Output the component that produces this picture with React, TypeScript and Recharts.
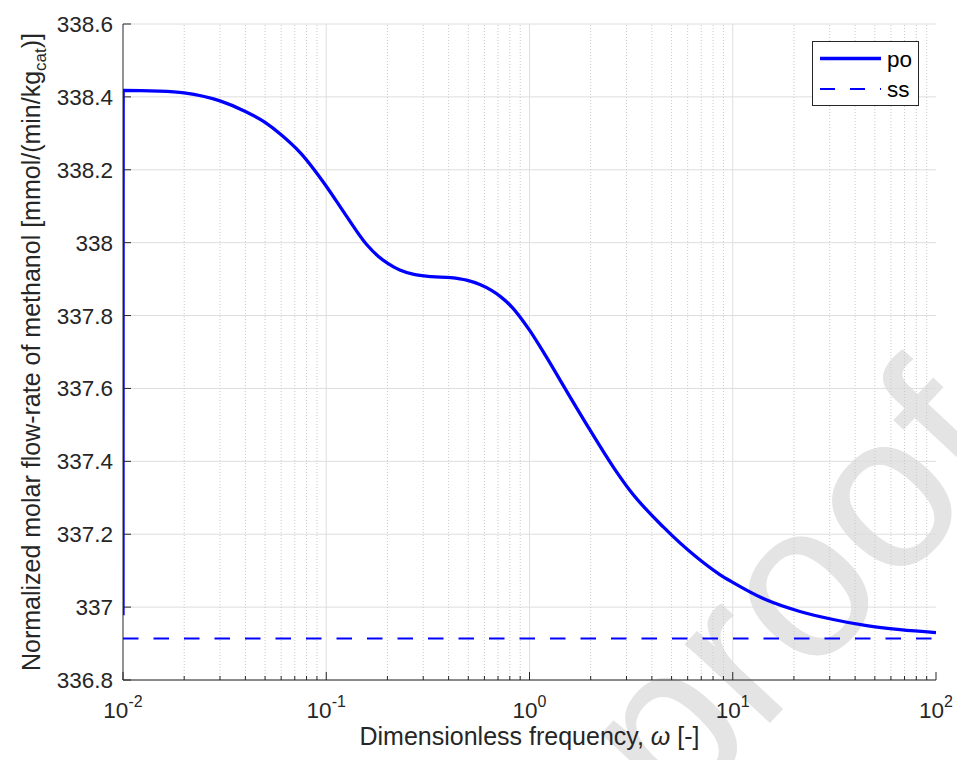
import React from "react";
import { LineChart, Line, XAxis, YAxis, CartesianGrid, ReferenceLine, Legend, Label } from "recharts";

// dimensionless frequency (omega) and normalized methanol flow-rate
const omega = [
  0.01, 0.01002, 0.015, 0.02, 0.03, 0.04, 0.05, 0.06, 0.075, 0.1, 0.125, 0.158, 0.18, 0.2, 0.23, 0.27, 0.33,
  0.41, 0.49, 0.57, 0.65, 0.72, 0.83, 1.0, 1.2, 1.47, 1.98, 2.58, 3.12, 4.55, 6.6, 8.6, 10, 14.6, 21.4, 31.2,
  45.6, 66.5, 100,
];
const poFlow = [
  336.978, 338.418, 338.416, 338.411, 338.389, 338.36, 338.33, 338.296, 338.245, 338.155, 338.075, 337.995,
  337.963, 337.944, 337.925, 337.913, 337.907, 337.904, 337.897, 337.885, 337.869, 337.852, 337.82, 337.76,
  337.69, 337.607, 337.487, 337.385, 337.32, 337.22, 337.138, 337.09, 337.068, 337.02, 336.988, 336.966,
  336.949, 336.938, 336.93,
];
const ssOmega = [0.01, 100];
const ssFlow = [336.914, 336.914];

const yTicks = [336.8, 337, 337.2, 337.4, 337.6, 337.8, 338, 338.2, 338.4, 338.6];
const xMajor = [0.01, 0.1, 1, 10, 100];
const xMinor = xMajor.slice(0, -1).flatMap((d) => [2, 3, 4, 5, 6, 7, 8, 9].map((k) => +(d * k).toPrecision(3)));
const xAll = [...xMajor, ...xMinor].sort((a, b) => a - b);

const poData = omega.map((w, i) => ({ w, po: poFlow[i] }));
const ssData = ssOmega.map((w, i) => ({ w, ss: ssFlow[i] }));

const BLUE = "#0000ff";
const AXIS = "#262626";
const FONT = "'Liberation Sans', Arial, Helvetica, sans-serif";
const W = 957;
const H = 760;
const TICK_FS = 22.5;
const LABEL_FS = 25;

const BottomTick = (props: any) => {
  const { x, y, payload } = props;
  const v = payload.value;
  const major = xMajor.includes(v);
  return (
    <g>
      <line x1={x} x2={x} y1={y} y2={y - (major ? 8 : 4)} stroke={AXIS} />
      {major && (
        <text x={x} y={y + 38} textAnchor="middle" fontSize={TICK_FS} fill={AXIS} fontFamily={FONT}>
          10
          <tspan dy={-11} fontSize={16}>
            {Math.round(Math.log10(v))}
          </tspan>
        </text>
      )}
    </g>
  );
};

const TopTick = (props: any) => {
  const { x, y, payload } = props;
  const major = xMajor.includes(payload.value);
  return <line x1={x} x2={x} y1={y} y2={y + (major ? 8 : 4)} stroke={AXIS} />;
};

const LeftTick = (props: any) => {
  const { x, y, payload } = props;
  return (
    <g>
      <line x1={x} x2={x + 8} y1={y} y2={y} stroke={AXIS} />
      <text x={x - 10} y={y} dy={8} textAnchor="end" fontSize={TICK_FS} fill={AXIS} fontFamily={FONT}>
        {Number(payload.value.toFixed(1)).toString()}
      </text>
    </g>
  );
};

const RightTick = (props: any) => {
  const { x, y } = props;
  return <line x1={x} x2={x - 8} y1={y} y2={y} stroke={AXIS} />;
};

const LegendBox = () => (
  <svg width={107} height={65} style={{ display: "block" }}>
    <rect x={0.5} y={0.5} width={106} height={64} fill="#fff" stroke={AXIS} />
    <line x1={8} x2={69} y1={17.5} y2={17.5} stroke={BLUE} strokeWidth={3.3} />
    <text x={75} y={25.5} fontSize={TICK_FS} fill="#000" fontFamily={FONT}>po</text>
    <line x1={8} x2={69} y1={48} y2={48} stroke={BLUE} strokeWidth={2} strokeDasharray="15 15" />
    <text x={75} y={55.5} fontSize={TICK_FS} fill="#000" fontFamily={FONT}>ss</text>
  </svg>
);

export default function App() {
  return (
    <div style={{ position: "relative", width: W, height: H, background: "#fff" }}>
      <style>{`body{margin:0}`}</style>
      <svg width={W} height={H} style={{ position: "absolute", left: 0, top: 0 }}>
        <text
          x={1018}
          y={457}
          transform="rotate(-47 1018 457)"
          textAnchor="end"
          fontSize={220}
          fill="#e4e4e4"
          fontFamily={FONT}
        >
          Journal Pre-proof
        </text>
      </svg>
      <LineChart width={W} height={H} margin={{ top: 24, right: 21, bottom: 0, left: 0 }}>
        <CartesianGrid vertical={false} stroke="#dedede" />
        {xMinor.map((v) => (
          <ReferenceLine key={`m${v}`} x={v} stroke="#c9c9c9" strokeDasharray="1 2" />
        ))}
        {xMajor.slice(1, -1).map((v) => (
          <ReferenceLine key={`M${v}`} x={v} stroke="#dedede" />
        ))}
        <XAxis
          dataKey="w"
          type="number"
          scale="log"
          domain={[0.01, 100]}
          allowDataOverflow
          ticks={xAll}
          interval={0}
          height={80}
          tickSize={0}
          tickMargin={0}
          tickLine={false}
          tick={<BottomTick />}
          axisLine={{ stroke: AXIS }}
        >
          <Label
            content={() => (
              <text x={529.5} y={745} textAnchor="middle" fontSize={LABEL_FS} fill={AXIS} fontFamily={FONT}>
                Dimensionless frequency, <tspan fontStyle="italic">ω</tspan> [-]
              </text>
            )}
          />
        </XAxis>
        <XAxis
          xAxisId="top"
          orientation="top"
          dataKey="w"
          type="number"
          scale="log"
          domain={[0.01, 100]}
          allowDataOverflow
          ticks={xAll}
          interval={0}
          height={0}
          tickSize={0}
          tickMargin={0}
          tickLine={false}
          tick={<TopTick />}
          axisLine={{ stroke: AXIS }}
        />
        <YAxis
          type="number"
          domain={[336.8, 338.6]}
          allowDataOverflow
          ticks={yTicks}
          interval={0}
          width={123}
          tickSize={0}
          tickMargin={0}
          tickLine={false}
          tick={<LeftTick />}
          axisLine={{ stroke: AXIS }}
        >
          <Label
            content={() => (
              <text
                x={40}
                y={352}
                transform="rotate(-90 40 352)"
                textAnchor="middle"
                fontSize={LABEL_FS}
                fill={AXIS}
                fontFamily={FONT}
              >
                Normalized molar flow-rate of methanol [mmol/(min/kg
                <tspan dy={6} fontSize={17}>cat</tspan>
                <tspan dy={-6}>)]</tspan>
              </text>
            )}
          />
        </YAxis>
        <YAxis
          yAxisId="right"
          orientation="right"
          type="number"
          domain={[336.8, 338.6]}
          allowDataOverflow
          ticks={yTicks}
          interval={0}
          width={0}
          tickSize={0}
          tickMargin={0}
          tickLine={false}
          tick={<RightTick />}
          axisLine={{ stroke: AXIS }}
        />
        <Line
          data={poData}
          dataKey="po"
          type="monotone"
          stroke={BLUE}
          strokeWidth={3.3}
          dot={false}
          isAnimationActive={false}
        />
        <Line
          data={ssData}
          dataKey="ss"
          type="linear"
          stroke={BLUE}
          strokeWidth={2}
          strokeDasharray="15.5 15"
          dot={false}
          isAnimationActive={false}
        />
        <Legend
          layout="horizontal"
          verticalAlign="middle"
          align="center"
          wrapperStyle={{ left: 812, top: 41, width: 107, height: 65 }}
          content={() => <LegendBox />}
        />
      </LineChart>
    </div>
  );
}
